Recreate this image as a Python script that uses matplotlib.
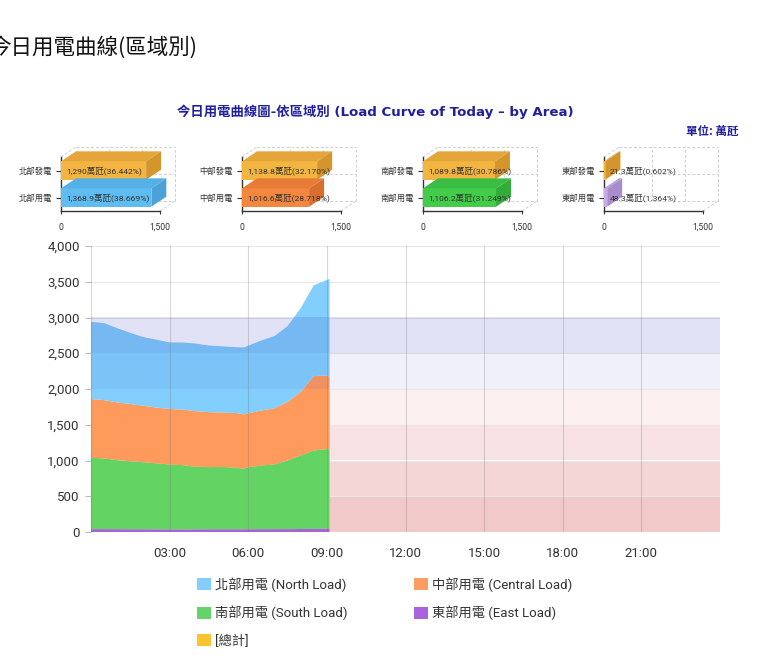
import matplotlib
matplotlib.use('Agg')
import matplotlib.pyplot as plt
from matplotlib.patches import Patch, Polygon, Rectangle

plt.rcParams['font.family'] = ['Roboto', 'Noto Sans CJK TC', 'DejaVu Sans']

# ---------------- data ----------------
hours = [0.0, 0.5, 1.0, 1.5, 2.0, 2.5, 3.0, 3.5, 4.0, 4.5, 5.0, 5.5, 5.83, 6.0,
         6.5, 7.0, 7.5, 8.0, 8.5, 9.0, 9.1]
north = [1080, 1076, 1038, 995, 960, 950, 930, 938, 945, 932, 927, 920, 935, 945,
         980, 1010, 1060, 1170, 1270, 1335, 1368.9]
central = [823, 815, 807, 800, 790, 780, 777, 777, 778, 769, 760, 765, 760, 755,
           770, 785, 820, 890, 1040, 1030, 1016.6]
south = [997, 990, 966, 952, 937, 923, 908, 899, 875, 869, 872, 862, 848, 866,
         891, 905, 960, 1028, 1096, 1114, 1106.2]
east = [40, 40, 39, 38, 38, 37, 36, 36, 37, 38, 38, 38, 38, 39,
        39, 40, 40, 42, 44, 46, 48.3]

series_labels = ['北部用電 (North Load)', '中部用電 (Central Load)',
                 '南部用電 (South Load)', '東部用電 (East Load)', '[總計]']

xtick_hours = [0, 3, 6, 9, 12, 15, 18, 21]
xtick_labels = ['', '03:00', '06:00', '09:00', '12:00', '15:00', '18:00', '21:00']
ytick_values = [0, 500, 1000, 1500, 2000, 2500, 3000, 3500, 4000]
ytick_labels = ['0', '500', '1,000', '1,500', '2,000', '2,500', '3,000', '3,500', '4,000']
band_edges = [0, 500, 1000, 1500, 2000, 2500, 3000]

regions = ['北部', '中部', '南部', '東部']
gen_values = [1290, 1138.8, 1089.8, 21.3]
gen_labels = ['1,290萬瓩(36.442%)', '1,138.8萬瓩(32.170%)',
              '1,089.8萬瓩(30.786%)', '21.3萬瓩(0.602%)']
load_values = [1368.9, 1016.6, 1106.2, 48.3]
load_labels = ['1,368.9萬瓩(38.669%)', '1,016.6萬瓩(28.718%)',
               '1,106.2萬瓩(31.249%)', '48.3萬瓩(1.364%)']
bar_ticks = [0, 1500]
bar_tick_labels = ['0', '1,500']

# ---------------- style ----------------
W, H = 780, 672
area_colors = ['#a862dc', '#63d463', '#fd9a5c', '#82cefc']   # east, south, central, north
legend_colors = ['#82cefc', '#fb9c62', '#64d46a', '#ab63dd', '#f7c531']
# red bands drawn behind, lavender bands overlaid
band_back = ['#f2c9c9', '#f5d6d7', '#f8e2e3', '#fcf0f0', None, None]
band_front = [None, None, None, None, ('#2929c6', 0.065), ('#373ebc', 0.15)]
gen_col = ('#f3b540', '#e4a63a', '#d3952c')
load_cols = [('#5ebcf0', '#55b0e6', '#4aa2d8'),
             ('#f3873f', '#e87c36', '#d96f2e'),
             ('#42cc4a', '#3abd42', '#33ad3a'),
             ('#c6ace6', '#b89ddc', '#a88dcc')]
title_col = '#1f1fa0'
txt = '#333333'


def fpos(l, t, w, h):
    return [l / W, 1 - (t + h) / H, w / W, h / H]


fig = plt.figure(figsize=(W / 100, H / 100), dpi=100)

# page title
fig.text(-11 / W, 1 - 47 / H, '今日用電曲線(區域別)', fontsize=15.5, va='center', ha='left',
         color='#111111', family=['Noto Sans CJK TC'])
# chart title
fig.text(375 / W, 1 - 112 / H, '今日用電曲線圖-依區域別 (Load Curve of Today – by Area)',
         fontsize=9.6, fontweight='bold', ha='center', va='center', color=title_col,
         family=['DejaVu Sans', 'Noto Sans CJK TC'])
fig.text(738 / W, 1 - 131 / H, '單位: 萬瓩', fontsize=8.3, fontweight='bold', ha='right',
         va='center', color=title_col, family=['Noto Sans CJK TC'])

# ---------------- small 3D bar panels ----------------
panel_left = [61, 242, 423, 604]
dxp, dyp = 15, 10
pw, ph = 99, 54
for i, r in enumerate(regions):
    ax = fig.add_axes(fpos(panel_left[i], 157, pw, ph))
    ax.set_xlim(0, 1500)
    ax.set_ylim(0, 2)
    dx = dxp / pw * 1500
    dy = dyp / ph * 2
    grid_kw = dict(color='#cfcfcf', lw=0.7, ls=(0, (3, 2)), zorder=1, clip_on=False)
    for yy in [0, 1, 2]:
        ax.plot([dx, 1500 + dx], [yy + dy, yy + dy], **grid_kw)
    for xx in [500, 1000, 1500]:
        ax.plot([xx + dx, xx + dx], [dy, 2 + dy], **grid_kw)
    ax.plot([1500, 1500 + dx], [0, dy], **grid_kw)
    ax.plot([0, dx], [2, 2 + dy], **grid_kw)

    h = 0.68
    for c, v, cols, lab in [(1.5, gen_values[i], gen_col, gen_labels[i]),
                            (0.5, load_values[i], load_cols[i], load_labels[i])]:
        y0, y1 = c - h / 2, c + h / 2
        ax.add_patch(Rectangle((0, y0), v, h, facecolor=cols[0], edgecolor='none',
                               zorder=3, clip_on=False))
        ax.add_patch(Polygon([(0, y1), (v, y1), (v + dx, y1 + dy), (dx, y1 + dy)],
                             closed=True, facecolor=cols[1], edgecolor='none',
                             zorder=3, clip_on=False))
        ax.add_patch(Polygon([(v, y0), (v + dx, y0 + dy), (v + dx, y1 + dy), (v, y1)],
                             closed=True, facecolor=cols[2], edgecolor='none',
                             zorder=3, clip_on=False))
        ax.text(80, c, lab, fontsize=6.1, color=txt, ha='left', va='center', zorder=5)

    ax.set_yticks([1.5, 0.5])
    ax.set_yticklabels([r + '發電', r + '用電'])
    ax.set_xticks(bar_ticks)
    ax.set_xticklabels(bar_tick_labels)
    ax.tick_params(axis='y', length=3.5, width=0.8, pad=3, labelsize=6, colors=txt)
    ax.tick_params(axis='x', length=2.5, width=0.8, pad=6, labelsize=6.2, colors=txt)
    for s in ['top', 'right']:
        ax.spines[s].set_visible(False)
    for s in ['left', 'bottom']:
        ax.spines[s].set_color('#333333')
        ax.spines[s].set_linewidth(1)
    ax.patch.set_alpha(0)

# ---------------- main area chart ----------------
ax = fig.add_axes(fpos(91, 246, 629, 286))
ax.set_xlim(0, 24)
ax.set_ylim(0, 4000)
for k in range(len(band_edges) - 1):
    if band_back[k]:
        ax.axhspan(band_edges[k], band_edges[k + 1], facecolor=band_back[k],
                   edgecolor='none', zorder=0)
    if band_front[k]:
        ax.axhspan(band_edges[k], band_edges[k + 1], facecolor=band_front[k][0],
                   alpha=band_front[k][1], edgecolor='none', zorder=3)
for yv in ytick_values:
    ax.axhline(yv, color='#e8e8e8', lw=0.8, zorder=0.5)
for xv in xtick_hours:
    ax.axvline(xv, color='#777777', alpha=0.28, lw=0.8, zorder=4)

ax.stackplot(hours, east, south, central, north, colors=area_colors, lw=0, zorder=2)

ax.set_xticks(xtick_hours)
ax.set_xticklabels(xtick_labels)
ax.set_yticks(ytick_values)
ax.set_yticklabels(ytick_labels)
ax.tick_params(axis='x', length=0, pad=11, labelsize=9.5, colors=txt)
ax.tick_params(axis='y', length=4, width=0.8, pad=4, labelsize=9.5, colors='#bbbbbb',
               labelcolor=txt)
for s in ax.spines.values():
    s.set_visible(False)
ax.grid(False)

# legend
handles = [Patch(facecolor=c, edgecolor='none') for c in legend_colors]
order = [0, 2, 4, 1, 3]
fig.legend([handles[k] for k in order], [series_labels[k] for k in order],
           loc='upper left', bbox_to_anchor=(197 / W, 1 - 577 / H), ncol=2,
           frameon=False, fontsize=9.5, handlelength=1.05, handleheight=1.05,
           handletextpad=0.35, columnspacing=5.0, labelspacing=1.05,
           borderpad=0, borderaxespad=0, labelcolor=txt)

fig.savefig('out.png', dpi=100)
